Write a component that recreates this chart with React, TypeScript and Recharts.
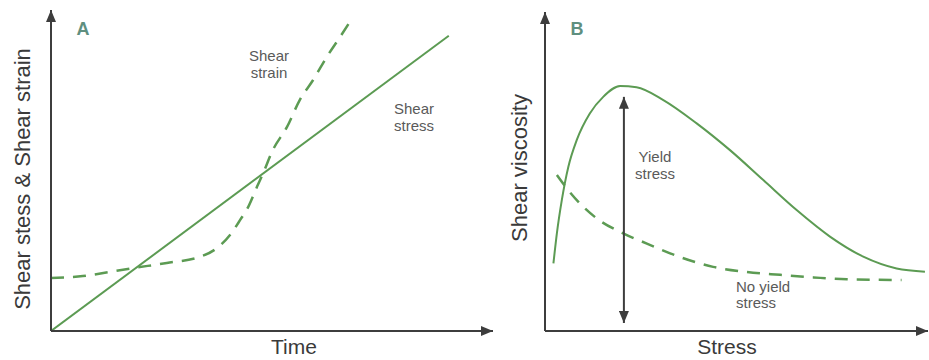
import { Line, LineChart, ReferenceLine, XAxis, YAxis } from "recharts";

const FONT = '"Liberation Sans", Arial, sans-serif';
const GREEN = "#5c9b53";
const AXIS = "#3d3d3d";
const TEXT = "#5a5a5a";
const TAG = "#5f8f7f";

// Panel A: shear stress rises linearly with time, strain lags then accelerates
const stressTime = [0, 90];
const stressLevel = [0, 92];
const strainTime = [0, 7.2, 13.3, 18.6, 26.2, 33.7, 37.6, 40.5, 42.8, 44.6, 46.6, 48.0, 50.2, 53.4, 56.3, 59.3, 62.4, 65.4, 68.3];
const strainLevel = [16.5, 17.1, 18.4, 19.6, 21.2, 23.1, 25.9, 29.9, 34.6, 38.6, 44.9, 49.2, 56.4, 63.6, 72.0, 78.2, 85.4, 91.6, 97.8];

// Panel B: viscosity against applied stress
const yieldStressX = [2.2, 3.1, 4.4, 6.1, 8.3, 11.7, 15.2, 19.6, 23.9, 30.9, 39.6, 48.3, 57.0, 65.7, 74.4, 83.1, 91.8, 99.2];
const yieldViscosity = [21.2, 30.6, 41.1, 51.5, 59.9, 68.2, 73.4, 76.8, 76.4, 72.4, 65.1, 56.7, 47.3, 37.9, 29.6, 23.3, 19.6, 18.6];
const noYieldStressX = [3.1, 5.7, 9.1, 13.5, 20.4, 26.6, 35.2, 43.9, 52.7, 61.4, 70.1, 78.8, 93.1];
const noYieldViscosity = [48.9, 44.7, 40.0, 35.3, 30.6, 27.4, 23.2, 20.1, 18.5, 17.6, 16.8, 16.2, 16.0];

// yield stress span marked by the double arrow
const yieldArrowX = 20.6;
const yieldArrowSpan = [2.5, 73.4];

const zip = (xs: number[], ys: number[]) => xs.map((x, i) => ({ x, y: ys[i] }));

const stressData = zip(stressTime, stressLevel);
const strainData = zip(strainTime, strainLevel);
const yieldData = zip(yieldStressX, yieldViscosity);
const noYieldData = zip(noYieldStressX, noYieldViscosity);

function Arrowhead({ id }: { id: string }) {
  return (
    <defs>
      <marker
        id={id}
        viewBox="0 0 12 10"
        refX={12}
        refY={5}
        markerWidth={12}
        markerHeight={10}
        markerUnits="userSpaceOnUse"
        orient="auto-start-reverse"
      >
        <path d="M0,0 L12,5 L0,10 z" fill={AXIS} />
      </marker>
    </defs>
  );
}

const textStyle = { fontFamily: FONT, fontSize: 15, fill: TEXT };
const titleStyle = { fontFamily: FONT, fontSize: 22, fill: "#3a3a3a" };
const bottomTitleStyle = { ...titleStyle, fontSize: 21 };
const tagStyle = { fontFamily: FONT, fontSize: 18, fontWeight: 700, fill: TAG };

function axes(marker: string, yWidth: number) {
  return [
    <XAxis
      key="x"
      type="number"
      dataKey="x"
      domain={[0, 100]}
      allowDataOverflow
      tick={false}
      tickLine={false}
      height={29}
      axisLine={{ stroke: AXIS, strokeWidth: 2, markerEnd: `url(#${marker})` }}
    />,
    <YAxis
      key="y"
      type="number"
      dataKey="y"
      domain={[0, 100]}
      allowDataOverflow
      tick={false}
      tickLine={false}
      width={yWidth}
      axisLine={{ stroke: AXIS, strokeWidth: 2, markerStart: `url(#${marker})` }}
    />,
  ];
}

export default function App() {
  return (
    <div style={{ position: "absolute", left: 0, top: 0, width: 929, height: 360, background: "#fff" }}>
      <div style={{ position: "absolute", left: 0, top: 0 }}>
        <LineChart width={500} height={360} margin={{ top: 10, right: 7, left: 0, bottom: 0 }}>
          <Arrowhead id="arrowA" />
          {axes("arrowA", 51)}
          <Line
            data={stressData}
            dataKey="y"
            type="linear"
            stroke={GREEN}
            strokeWidth={2}
            dot={false}
            activeDot={false}
            isAnimationActive={false}
          />
          <Line
            data={strainData}
            dataKey="y"
            type="monotone"
            stroke={GREEN}
            strokeWidth={2.5}
            strokeDasharray="13 9"
            dot={false}
            activeDot={false}
            isAnimationActive={false}
          />
          <text x={83} y={35} textAnchor="middle" style={tagStyle}>A</text>
          <text x={30} y={179} textAnchor="middle" transform="rotate(-90 30 179)" style={titleStyle}>
            Shear stess &amp; Shear strain
          </text>
          <text x={294} y={354} textAnchor="middle" style={bottomTitleStyle}>Time</text>
          <text x={269} y={61} textAnchor="middle" style={textStyle}>Shear</text>
          <text x={269} y={78} textAnchor="middle" style={textStyle}>strain</text>
          <text x={414} y={114} textAnchor="middle" style={textStyle}>Shear</text>
          <text x={414} y={131} textAnchor="middle" style={textStyle}>stress</text>
        </LineChart>
      </div>
      <div style={{ position: "absolute", left: 480, top: 0 }}>
        <LineChart width={449} height={360} margin={{ top: 12, right: 1, left: 0, bottom: 0 }}>
          <Arrowhead id="arrowB" />
          {axes("arrowB", 65)}
          <Line
            data={yieldData}
            dataKey="y"
            type="monotone"
            stroke={GREEN}
            strokeWidth={2}
            dot={false}
            activeDot={false}
            isAnimationActive={false}
          />
          <Line
            data={noYieldData}
            dataKey="y"
            type="monotone"
            stroke={GREEN}
            strokeWidth={2.5}
            strokeDasharray="13 9"
            dot={false}
            activeDot={false}
            isAnimationActive={false}
          />
          <ReferenceLine
            segment={[
              { x: yieldArrowX, y: yieldArrowSpan[0] },
              { x: yieldArrowX, y: yieldArrowSpan[1] },
            ]}
            stroke={AXIS}
            strokeWidth={2}
            markerStart="url(#arrowB)"
            markerEnd="url(#arrowB)"
          />
          <text x={97} y={35} textAnchor="middle" style={tagStyle}>B</text>
          <text x={47} y={168} textAnchor="middle" transform="rotate(-90 47 168)" style={titleStyle}>
            Shear viscosity
          </text>
          <text x={247} y={354} textAnchor="middle" style={bottomTitleStyle}>Stress</text>
          <text x={175} y={162} textAnchor="middle" style={textStyle}>Yield</text>
          <text x={175} y={179} textAnchor="middle" style={textStyle}>stress</text>
          <text x={256} y={292} textAnchor="start" style={textStyle}>No yield</text>
          <text x={256} y={308} textAnchor="start" style={textStyle}>stress</text>
        </LineChart>
      </div>
    </div>
  );
}
